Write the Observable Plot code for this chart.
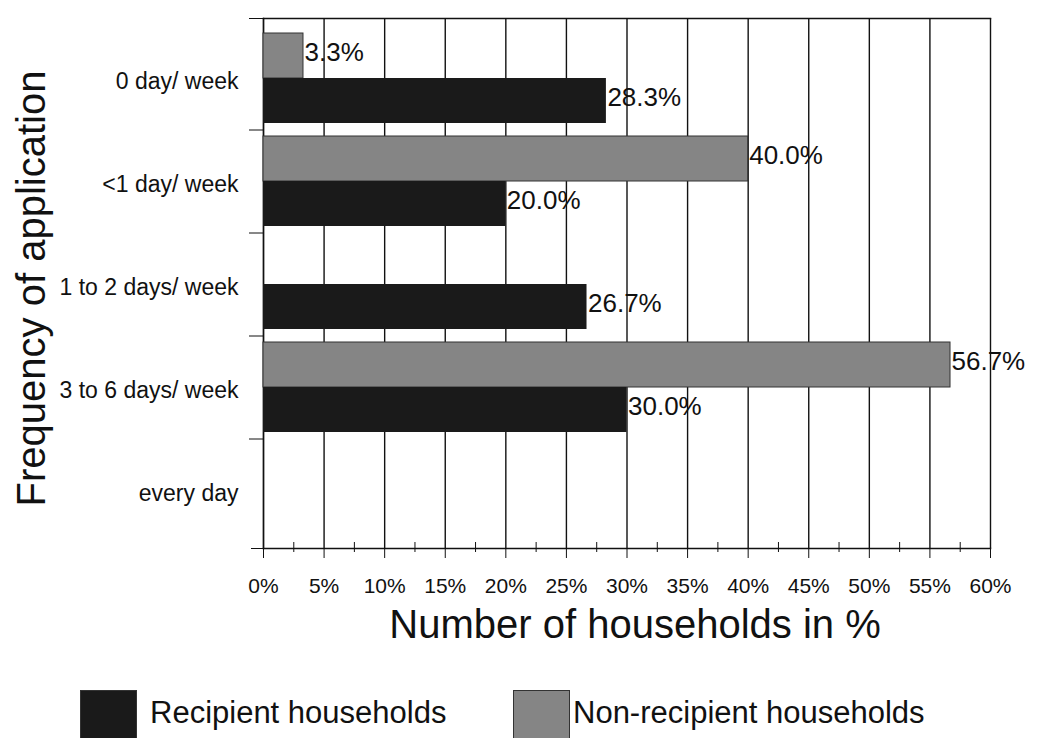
<!DOCTYPE html>
<html>
<head>
<meta charset="utf-8">
<script src="https://cdn.jsdelivr.net/npm/d3@7"></script>
<script src="https://cdn.jsdelivr.net/npm/@observablehq/plot@0.6"></script>
<style>
  body { margin: 0; background: #fff; font-family: "Liberation Sans", Arial, sans-serif; }
  #chart svg { display: block; }
  .legend { position: relative; width: 1038px; height: 58px; overflow: hidden; }
  .legend .sw { position: absolute; top: 10px; width: 57px; height: 56px; box-sizing: border-box; border: 1px solid #333; }
  .legend .lb { position: absolute; top: 15px; font-size: 31px; color: #111; white-space: nowrap; }
</style>
</head>
<body>
<div id="chart"></div>
<div class="legend" id="legend"></div>
<script>
const categories = ["0 day/ week", "<1 day/ week", "1 to 2 days/ week", "3 to 6 days/ week", "every day"];
const recipient = [28.3, 20.0, 26.7, 30.0, 0];
const nonRecipient = [3.3, 40.0, 0, 56.7, 0];
const xTicks = [0, 5, 10, 15, 20, 25, 30, 35, 40, 45, 50, 55, 60];
const xMinorTicks = [2.5, 7.5, 12.5, 17.5, 22.5, 27.5, 32.5, 37.5, 42.5, 47.5, 52.5, 57.5];
const seriesNames = ["Recipient households", "Non-recipient households"];
const seriesColors = ["#1a1a1a", "#858585"];
const xLabel = "Number of households in %";
const yLabel = "Frequency of application";

const recData = categories.map((c, i) => ({cat: c, value: recipient[i]})).filter(d => d.value > 0);
const nonData = categories.map((c, i) => ({cat: c, value: nonRecipient[i]})).filter(d => d.value > 0);
const fmt = d => d.value.toFixed(1) + "%";

const chart = Plot.plot({
  width: 1038,
  height: 680,
  marginLeft: 263,
  marginRight: 48,
  marginTop: 18,
  marginBottom: 132,
  style: {fontFamily: "'Liberation Sans', Arial, sans-serif", color: "#111", background: "#fff"},
  x: {domain: [0, 60]},
  y: {domain: categories, padding: 0, insetTop: 12, insetBottom: 3},
  marks: [
    Plot.gridX(xTicks, {stroke: "#111", strokeOpacity: 1, strokeWidth: 1.4}),
    Plot.frame({anchor: "top", stroke: "#111", strokeWidth: 1.4}),
    Plot.frame({anchor: "left", stroke: "#111", strokeWidth: 1.4}),
    Plot.frame({anchor: "bottom", stroke: "#111", strokeWidth: 1.6}),
    Plot.barX(nonData, {x: "value", y: "cat", fill: seriesColors[1], stroke: "#333", strokeWidth: 1, insetTop: 3, insetBottom: 55}),
    Plot.barX(recData, {x: "value", y: "cat", fill: seriesColors[0], insetTop: 48, insetBottom: 10}),
    Plot.text(nonData, {x: "value", y: "cat", text: fmt, textAnchor: "start", dx: 1, dy: -29, fontSize: 26, fill: "#111"}),
    Plot.text(recData, {x: "value", y: "cat", text: fmt, textAnchor: "start", dx: 1, dy: 16, fontSize: 26, fill: "#111"}),
    Plot.axisX({ticks: xTicks, tickFormat: d => d + "%", tickSize: 10, tickPadding: 20, fontSize: 21, label: null, stroke: "#111"}),
    Plot.axisX({ticks: xMinorTicks, tickFormat: () => "", tickSize: 10, dy: -6, label: null, stroke: "#111"}),
    Plot.axisY({ticks: categories.slice(0, 1), tickFormat: () => "", tickSize: 14, dy: -63.5, label: null, stroke: "#111"}),
    Plot.axisY({ticks: categories.slice(1), tickFormat: () => "", tickSize: 14, dy: -55, label: null, stroke: "#111"}),
    Plot.axisY({ticks: categories.slice(-1), tickFormat: () => "", tickSize: 12, dy: 54.5, label: null, stroke: "#111"}),
    Plot.axisY({tickSize: 0, tickPadding: 25, fontSize: 23, label: null}),
    Plot.text([xLabel], {frameAnchor: "bottom", dx: 8, dy: 77, fontSize: 40, lineAnchor: "middle", fill: "#111"}),
    Plot.text([yLabel], {frameAnchor: "left", rotate: -90, textAnchor: "middle", lineAnchor: "middle", dx: -231, dy: 5, fontSize: 40, fill: "#111"})
  ]
});
document.getElementById("chart").appendChild(chart);

const legend = document.getElementById("legend");
const legendX = [[80, 150], [513, 573]];
seriesNames.forEach((name, i) => {
  const sw = document.createElement("div");
  sw.className = "sw";
  sw.style.left = legendX[i][0] + "px";
  sw.style.background = seriesColors[i];
  legend.appendChild(sw);
  const lb = document.createElement("div");
  lb.className = "lb";
  lb.style.left = legendX[i][1] + "px";
  lb.textContent = name;
  legend.appendChild(lb);
});
</script>
</body>
</html>
